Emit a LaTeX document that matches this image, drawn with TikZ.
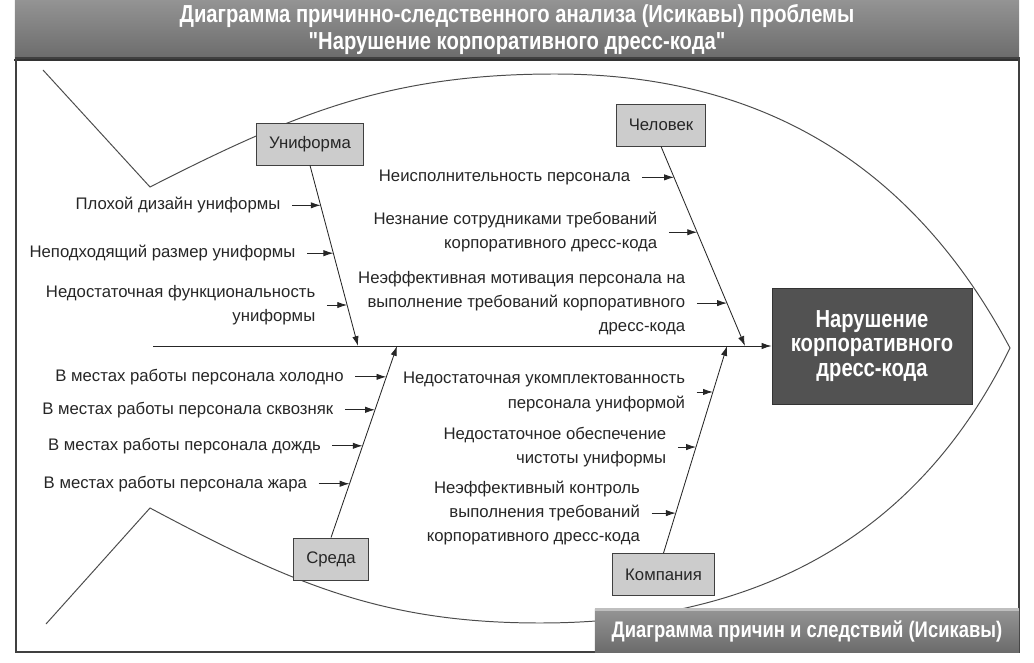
\documentclass[tikz,border=0pt]{standalone}
\usepackage{fontspec}
\setmainfont{Liberation Sans}
\newfontfamily\narrowfont[FakeStretch=0.82]{Liberation Sans}
\usepackage{tikz}
\usetikzlibrary{arrows.meta,positioning,calc}

\begin{document}
\begin{tikzpicture}[
  x=0.025cm, y=0.025cm,
  font=\fontsize{11.9}{17.2}\selectfont,
  line width=0.6pt,
  cat/.style={draw=black!75,fill=black!20,text=black!85,minimum height=1.05cm,inner xsep=9pt},
  cause/.style={align=right,inner sep=1pt,text=black!85},
  bar/.style={top color=black!42,bottom color=black!58,text=white,align=center,
    font=\narrowfont\bfseries\fontsize{17.5}{19.5}\selectfont},
  outline/.style={draw=black!70,line width=0.7pt},
  arr/.style={-{Latex[length=7pt,width=4.5pt]},draw=black!85},
  carr/.style={arr,shorten <=7pt}
]
\useasboundingbox (0,0) rectangle (1034,-663);

% ---- title and frame ----
\node[bar,minimum width=25.1cm,minimum height=1.425cm] (title) at (517,-29.5)
  {Диаграмма причинно-следственного анализа (Исикавы) проблемы\\
   "Нарушение корпоративного дресс-кода"};
\draw[black!80,line width=1.2pt] (title.south west) -- (title.south east);
\draw[black!75,line width=0.8pt] (16,-58) rectangle (1019,-652);

% ---- fish outline ----
\draw[outline] (43,-70) -- (150,-187)
  to[out=27,in=180] (555,-74)
  to[out=0,in=118] (1010,-348)
  to[out=244,in=0] (540,-623)
  to[out=180,in=-28] (150,-508)
  -- (46,-624);

% ---- head (effect) ----
\node[draw=black!80,fill=black!68,text=white,align=center,
  minimum width=5cm,minimum height=2.9cm,
  font=\narrowfont\bfseries\fontsize{17.5}{17.6}\selectfont] (effect) at (872,-346)
  {Нарушение\\корпоративного\\дресс-кода};

% ---- category boxes ----
\node[cat] (uni)   at (310,-144)   {Униформа};
\node[cat] (chel)  at (661,-125)   {Человек};
\node[cat] (sreda) at (331,-559)   {Среда};
\node[cat] (komp)  at (663.5,-574.5) {Компания};

% ---- spine and bones ----
\coordinate (tailS) at (153,-346);
\coordinate (uniE)   at (358,-346);
\coordinate (chelE)  at (745,-346);
\coordinate (sredaE) at (397,-346);
\coordinate (kompE)  at (727,-346);
\draw[arr] (tailS) -- (effect);
\draw[arr] (uni.south) -- (uniE);
\draw[arr] (chel.south) -- (chelE);
\draw[arr] (sreda.north) -- (sredaE);
\draw[arr] (komp.north) -- (kompE);

% ---- causes: uniform ----
\coordinate (u1) at ($(uni.south)!0.221!(uniE)$);
\coordinate (u2) at ($(uni.south)!0.486!(uniE)$);
\coordinate (u3) at ($(uni.south)!0.773!(uniE)$);
\node[cause,left=0.96cm of u1] (cu1) {Плохой дизайн униформы};
\node[cause,left=0.9cm of u2]  (cu2) {Неподходящий размер униформы};
\node[cause,left=0.75cm of u3] (cu3) {Недостаточная функциональность\\униформы};
\draw[carr] (cu1) -- (u1);
\draw[carr] (cu2) -- (u2);
\draw[carr] (cu3) -- (u3);

% ---- causes: people ----
\coordinate (h1) at ($(chel.south)!0.155!(chelE)$);
\coordinate (h2) at ($(chel.south)!0.43!(chelE)$);
\coordinate (h3) at ($(chel.south)!0.785!(chelE)$);
\node[cause,left=1.05cm of h1] (ch1) {Неисполнительность персонала};
\node[cause,left=0.95cm of h2] (ch2) {Незнание сотрудниками требований\\корпоративного дресс-кода};
\node[cause,left=1.0cm of h3]  (ch3) {Неэффективная мотивация персонала на\\выполнение требований корпоративного\\дресс-кода};
\draw[carr] (ch1) -- (h1);
\draw[carr] (ch2) -- (h2);
\draw[carr] (ch3) -- (h3);

% ---- causes: environment ----
\coordinate (s1) at ($(sreda.north)!0.839!(sredaE)$);
\coordinate (s2) at ($(sreda.north)!0.667!(sredaE)$);
\coordinate (s3) at ($(sreda.north)!0.479!(sredaE)$);
\coordinate (s4) at ($(sreda.north)!0.281!(sredaE)$);
\node[cause,left=1.02cm of s1] (cs1) {В местах работы персонала холодно};
\node[cause,left=1.0cm of s2]  (cs2) {В местах работы персонала сквозняк};
\node[cause,left=1.0cm of s3]  (cs3) {В местах работы персонала дождь};
\node[cause,left=1.02cm of s4] (cs4) {В местах работы персонала жара};
\draw[carr] (cs1) -- (s1);
\draw[carr] (cs2) -- (s2);
\draw[carr] (cs3) -- (s3);
\draw[carr] (cs4) -- (s4);

% ---- causes: company ----
\coordinate (k1) at ($(komp.north)!0.778!(kompE)$);
\coordinate (k2) at ($(komp.north)!0.512!(kompE)$);
\coordinate (k3) at ($(komp.north)!0.193!(kompE)$);
\node[cause,left=0.65cm of k1] (ck1) {Недостаточная укомплектованность\\персонала униформой};
\node[cause,left=0.7cm of k2]  (ck2) {Недостаточное обеспечение\\чистоты униформы};
\node[cause,left=0.85cm of k3] (ck3) {Неэффективный контроль\\выполнения требований\\корпоративного дресс-кода};
\draw[carr] (ck1) -- (k1);
\draw[carr] (ck2) -- (k2);
\draw[carr] (ck3) -- (k3);

% ---- caption ----
\node[bar,minimum width=10.6cm,minimum height=1.05cm,
  font=\narrowfont\bfseries\fontsize{16}{18}\selectfont] (caption) at (807,-631)
  {Диаграмма причин и следствий (Исикавы)};
\draw[black!25,line width=2pt] (caption.north west) -- (caption.north east);
\end{tikzpicture}
\end{document}
